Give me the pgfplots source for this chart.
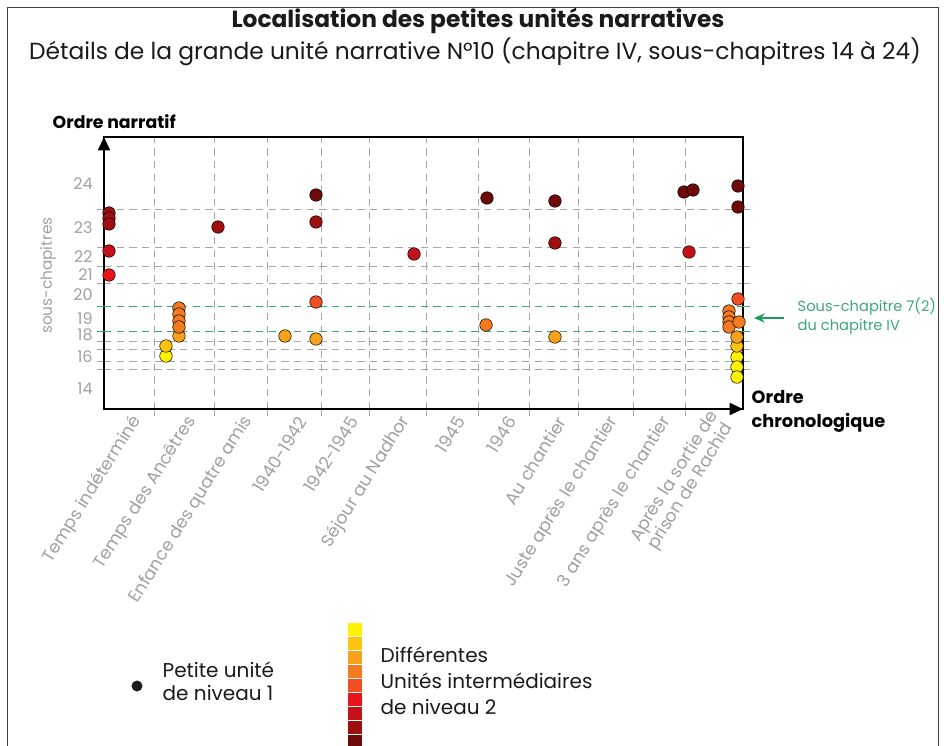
\documentclass[border=0pt]{standalone}
\usepackage{pgfplots}
\pgfplotsset{compat=1.18}
\usepackage{fontspec}
\setmainfont{Poppins}
\usetikzlibrary{arrows.meta}

% niveaux 2 : du jaune au rouge sombre
\definecolor{cA}{HTML}{FFF200}
\definecolor{cB}{HTML}{FCC40C}
\definecolor{cC}{HTML}{F7A21B}
\definecolor{cD}{HTML}{F37A1F}
\definecolor{cE}{HTML}{F04E23}
\definecolor{cF}{HTML}{E8141B}
\definecolor{cG}{HTML}{C4121A}
\definecolor{cH}{HTML}{A00F10}
\definecolor{cI}{HTML}{6E0A0A}
\definecolor{gridgray}{HTML}{A6A6A6}
\definecolor{labgray}{HTML}{A0A0A0}
\definecolor{vert}{HTML}{3FA67F}
\definecolor{vertfleche}{HTML}{1E9A62}
\definecolor{texte}{HTML}{1A1A1A}

\begin{document}
\begin{tikzpicture}
\useasboundingbox (0,0) rectangle (708pt,-558.75pt);
\begin{axis}[
  at={(78pt,-306.75pt)}, anchor=south west,
  scale only axis, width=479.25pt, height=204pt,
  xmin=-0.5, xmax=11.5, ymin=0, ymax=272,
  clip=false,
  axis line style={line width=1.4pt, black},
  tick align=outside,
  xtick pos=lower,
  major tick length=0pt,
  xtick={-0.03,1.00,2.06,3.07,4.03,5.01,6.04,7.00,7.94,8.92,9.92,10.96},
  xticklabels={Temps indéterminé, Temps des Ancêtres, Enfance des quatre amis,
    1940-1942, 1942-1945, Séjour au Nadhor, 1945, 1946, Au chantier,
    Juste après le chantier, 3 ans après le chantier,
    {Après la sortie de\\prison de Rachid}},
  ytick={225,181,152,134,114,90,74,52,20},
  yticklabels={24,23,22,21,20,19,18,16,14},
  ylabel={sous-chapitres},
  every axis y label/.style={at={(axis description cs:-0.0876,0.49)}, rotate=90,
    anchor=center, font=\fontsize{11.5}{12}\selectfont, text=labgray},
  minor xtick={0.439,1.566,2.561,3.575,4.477,5.547,6.523,7.481,8.401,9.434,10.411},
  minor ytick={200,162,143,126,68,60,48,40},
  minor tick length=5.25pt,
  minor tick style={gridgray, line width=0.7pt},
  xminorgrids, yminorgrids,
  minor grid style={gridgray, line width=0.7pt, dash pattern=on 5.5pt off 4pt},
  extra y ticks={78,103},
  extra y tick labels={},
  extra y tick style={major tick length=5.25pt,
    tick style={vert, line width=0.75pt},
    grid=major,
    major grid style={vert, line width=0.75pt, dash pattern=on 5.5pt off 4pt}},
  xticklabel style={rotate=58, anchor=east, align=center, yshift=-9pt, xshift=1pt,
    font=\fontsize{13}{14}\selectfont, text=labgray},
  yticklabel style={font=\fontsize{12}{13}\selectfont, text=labgray, xshift=-5pt},
  every axis plot/.append style={only marks, mark=*, mark size=4.7pt,
    mark options={draw=white, line width=0.5pt}},
]
\addplot[mark options={fill=cA}] coordinates {(0.664,53) (11.387,52) (11.387,42) (11.387,32)};
\addplot[mark options={fill=cB}] coordinates {(0.664,63) (11.387,63)};
\addplot[mark options={fill=cC}] coordinates {(0.908,73) (2.899,73) (3.481,70) (7.969,72) (11.387,72)};
\addplot[mark options={fill=cD}] coordinates {(0.908,101) (0.908,95) (0.908,88) (0.908,82) (6.674,84)
  (11.237,98) (11.237,92) (11.237,87) (11.237,82) (11.425,87)};
\addplot[mark options={fill=cE}] coordinates {(3.481,107) (11.406,110)};
\addplot[mark options={fill=cF}] coordinates {(-0.406,134)};
\addplot[mark options={fill=cG}] coordinates {(-0.406,158) (5.322,155) (10.486,157)};
\addplot[mark options={fill=cH}] coordinates {(-0.406,196) (-0.406,191) (-0.406,185) (1.641,182) (3.481,187) (7.969,166)};
\addplot[mark options={fill=cI}] coordinates {(3.481,214) (6.692,211) (7.969,208) (10.392,217) (10.561,219) (11.406,223) (11.406,202)};

\draw[line width=1.4pt, -{Triangle[length=10pt, width=9pt]}] (rel axis cs:0,0.8) -- (rel axis cs:0,1);
\draw[line width=1.4pt, -{Triangle[length=10pt, width=9pt]}] (rel axis cs:0.8,0) -- (rel axis cs:1,0);
\end{axis}

\begin{scope}[x=0.75pt, y=-0.75pt]
  \draw[black!75, line width=0.6pt] (7,760) -- (7,7) -- (938,7) -- (938,760);
  \node[texte, font=\bfseries\fontsize{17.5}{20}\selectfont] at (478,21) {Localisation des petites unités narratives};
  \node[texte, font=\fontsize{17.5}{20}\selectfont] at (475,52) {Détails de la grande unité narrative N°10 (chapitre IV, sous-chapitres 14 à 24)};
  \node[black, anchor=west, font=\bfseries\fontsize{13}{15}\selectfont] at (48,122) {Ordre narratif};
  \node[black, anchor=west, align=left, font=\bfseries\fontsize{13.3}{18}\selectfont] at (747,411) {Ordre\\chronologique};
  \draw[vertfleche, line width=1.3pt, -{Stealth[length=8pt, width=7pt]}] (784,318) -- (754,318);
  \node[vert, anchor=west, align=left, font=\fontsize{11}{14.5}\selectfont] at (793,316) {Sous-chapitre 7(2)\\du chapitre IV};
  % légende
  \fill[texte] (137,686) circle (5.5);
  \node[texte, anchor=west, align=left, font=\fontsize{15}{17.5}\selectfont] at (158,681) {Petite unité\\de niveau 1};
  \fill[cA] (348,623) rectangle (362,635.5);
  \fill[cB] (348,637) rectangle (362,649.5);
  \fill[cC] (348,651) rectangle (362,663.5);
  \fill[cD] (348,665) rectangle (362,677.5);
  \fill[cE] (348,679) rectangle (362,691.5);
  \fill[cF] (348,693) rectangle (362,705.5);
  \fill[cG] (348,707) rectangle (362,719.5);
  \fill[cH] (348,721) rectangle (362,733.5);
  \fill[cI] (348,735) rectangle (362,747.5);
  \node[texte, anchor=west, align=left, font=\fontsize{15}{19.5}\selectfont] at (376,681) {Différentes\\Unités intermédiaires\\de niveau 2};
\end{scope}
\end{tikzpicture}
\end{document}
